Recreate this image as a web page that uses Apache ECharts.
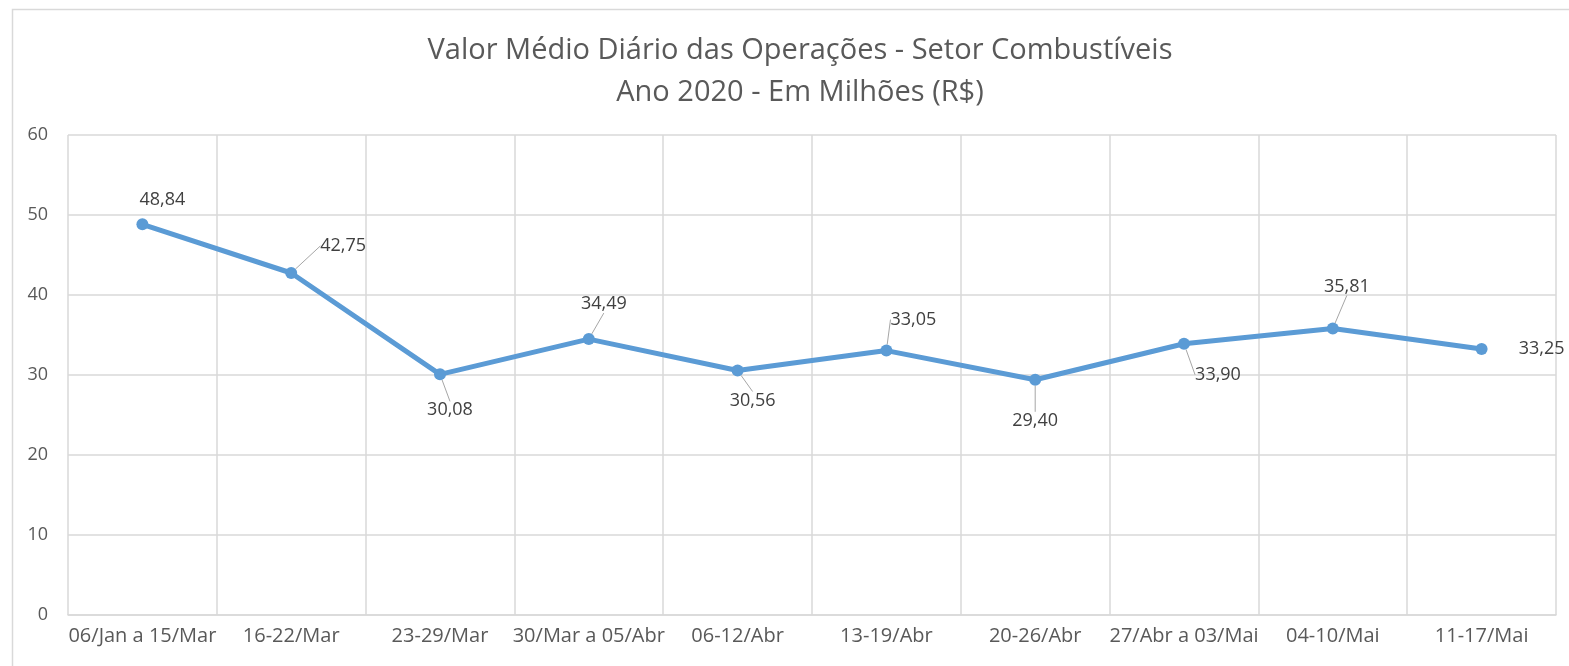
<!DOCTYPE html>
<html>
<head>
<meta charset="utf-8">
<script src="https://cdn.jsdelivr.net/npm/echarts@6/dist/echarts.min.js"></script>
<style>
  html, body { margin: 0; padding: 0; background: #fff; }
  #chart { width: 1569px; height: 666px; }
</style>
</head>
<body>
<div id="chart"></div>
<script>
// Valor médio diário — setor combustíveis, 2020 (R$ milhões)
const semanas = ["06/Jan a 15/Mar", "16-22/Mar", "23-29/Mar", "30/Mar a 05/Abr", "06-12/Abr",
                 "13-19/Abr", "20-26/Abr", "27/Abr a 03/Mai", "04-10/Mai", "11-17/Mai"];
const valores = [48.84, 42.75, 30.08, 34.49, 30.56, 33.05, 29.40, 33.90, 35.81, 33.25];
const yTicks = [0, 10, 20, 30, 40, 50, 60];

// posição dos rótulos (dx, dy a partir do ponto) e se tem linha de chamada
const rotDx = [20, 52, 10, 15, 15, 27, 0, 34, 14, 60];
const rotDy = [-24, -27, 36, -35, 30, -31, 41, 31, -42, 0];
const chamada = [false, true, true, true, true, true, true, true, true, false];

const fmt = v => v.toFixed(2).replace(".", ",");
const FONT = "'Open Sans', 'Noto Sans', sans-serif";

const chart = echarts.init(document.getElementById("chart"));
chart.setOption({
  animation: false,
  backgroundColor: "#ffffff",
  textStyle: { fontFamily: FONT },
  title: {
    text: "Valor Médio Diário das Operações - Setor Combustíveis\nAno 2020 - Em Milhões (R$)",
    left: 795, top: 25, textAlign: "center",
    textStyle: { fontFamily: FONT, fontSize: 29, fontWeight: "normal", color: "#595959", lineHeight: 42 },
  },
  graphic: [{
    type: "rect", silent: true, z: -1,
    shape: { x: 12.5, y: 9.5, width: 1600, height: 700 },
    style: { fill: "none", stroke: "#d9d9d9", lineWidth: 1.5 },
  }],
  grid: { left: 68, right: 13, top: 135, bottom: 51 },
  xAxis: {
    type: "category",
    data: semanas,
    boundaryGap: true,
    axisLine: { lineStyle: { color: "#d9d9d9", width: 1.5 } },
    axisTick: { show: false },
    splitLine: { show: true, lineStyle: { color: "#d9d9d9", width: 1.5 } },
    axisLabel: { color: "#595959", fontSize: 20, margin: 11, interval: 0, fontFamily: FONT },
  },
  yAxis: {
    type: "value",
    min: yTicks[0], max: yTicks[yTicks.length - 1], interval: 10,
    axisLine: { show: false },
    axisTick: { show: false },
    splitLine: { lineStyle: { color: "#d9d9d9", width: 1.5 } },
    axisLabel: { color: "#595959", fontSize: 18, margin: 20, fontFamily: FONT },
  },
  series: [{
    type: "line",
    data: valores.map((v, i) => ({ value: v, labelLine: { show: chamada[i] } })),
    symbol: "circle",
    symbolSize: 12,
    lineStyle: { color: "#5b9bd5", width: 5 },
    itemStyle: { color: "#5b9bd5" },
    label: {
      show: true, position: "inside",
      formatter: p => fmt(p.value),
      color: "#404040", fontSize: 18, fontFamily: FONT,
    },
    labelLine: { show: true, lineStyle: { color: "#a6a6a6", width: 1 } },
    labelLayout: p => ({ dx: rotDx[p.dataIndex], dy: rotDy[p.dataIndex] }),
  }],
});
</script>
</body>
</html>
